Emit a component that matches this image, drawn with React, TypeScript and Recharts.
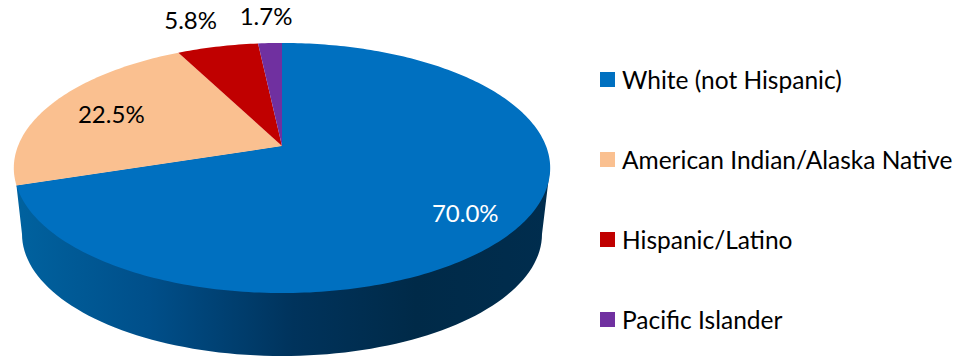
import { PieChart, Pie, Legend } from "recharts";

const names = [
  "White (not Hispanic)",
  "American Indian/Alaska Native",
  "Hispanic/Latino",
  "Pacific Islander",
];
const shares = [70.0, 22.5, 5.8, 1.7];
const colors = ["#0070c0", "#fac090", "#c00000", "#7030a0"];
// label nudge from the rim or inner point of each slice
const labelRadius = [0.8, 0.73, 1, 1];
const labelNudge = [
  [-3, 4],
  [-1, 0],
  [-27, -27],
  [-4, -28],
];

const data = names.map((name, i) => ({ name, value: shares[i] }));

const FONT = "Lato, Carlito, sans-serif";

// perspective of the tilted disc
const TILT = 0.176;
const SQUASH = 0.459;
const DEPTH_CY = 234; // centre of the lower rim
const LOWER_RX = 260;
const LOWER_RY = 122;

const project = (cx: number, cy: number, r: number, deg: number) => {
  const u = Math.cos((deg * Math.PI) / 180);
  const v = -Math.sin((deg * Math.PI) / 180);
  const w = 1 - TILT * v * (r / 264);
  return {
    x: cx + (r * u) / w,
    y: cy + (r * SQUASH * v) / w,
  };
};

function Slice(props: any) {
  const { cx, cy, outerRadius, startAngle, endAngle, fill, index } = props;
  const steps = Math.max(4, Math.ceil(Math.abs(endAngle - startAngle)));
  const rim: string[] = [];
  for (let i = 0; i <= steps; i++) {
    const p = project(cx, cy, outerRadius, startAngle + ((endAngle - startAngle) * i) / steps);
    rim.push(`${p.x.toFixed(2)} ${p.y.toFixed(2)}`);
  }
  const top = `M${cx} ${cy} L${rim.join(" L")} Z`;

  let wall = null;
  if (index === 0) {
    // side of the disc, only the big slice faces the viewer
    const end = project(cx, cy, outerRadius, endAngle);
    const pts: string[] = [];
    for (let a = 0; a <= 180; a += 2) {
      const t = (a * Math.PI) / 180;
      pts.push(`${(cx + LOWER_RX * Math.cos(t)).toFixed(2)} ${(DEPTH_CY + LOWER_RY * Math.sin(t)).toFixed(2)}`);
    }
    const d = `M${cx + 268} 168 L${pts.join(" L")} L${end.x.toFixed(2)} ${end.y.toFixed(2)} L${cx} ${cy} Z`;
    wall = <path d={d} fill="url(#wallShade)" />;
  }

  return (
    <g>
      {wall}
      <path d={top} fill={fill} />
    </g>
  );
}

function SliceLabel(props: any) {
  const { cx, cy, outerRadius, midAngle, index, value } = props;
  const p = project(cx, cy, outerRadius * labelRadius[index], midAngle);
  return (
    <text
      x={p.x + labelNudge[index][0]}
      y={p.y + labelNudge[index][1]}
      textAnchor="middle"
      dominantBaseline="central"
      fontFamily={FONT}
      fontSize={24}
      fill={index === 0 ? "#ffffff" : "#000000"}
    >
      {Number(value).toFixed(1) + "%"}
    </text>
  );
}

function LegendList() {
  return (
    <div style={{ fontFamily: FONT, fontSize: 24.5, color: "#000" }}>
      {names.map((name, i) => (
        <div key={name} style={{ height: 80, display: "flex", alignItems: "center", whiteSpace: "nowrap" }}>
          <span style={{ width: 15, height: 15, background: colors[i], marginRight: 7 }} />
          {name}
        </div>
      ))}
    </div>
  );
}

export default function App() {
  return (
    <div style={{ position: "absolute", left: 0, top: 0 }}>
      <PieChart width={958} height={358} margin={{ top: 0, right: 0, bottom: 0, left: 0 }}>
        <defs>
          <linearGradient id="wallShade" gradientUnits="userSpaceOnUse" x1="15" y1="0" x2="550" y2="0">
            <stop offset="0%" stopColor="#00629f" />
            <stop offset="25%" stopColor="#004f8a" />
            <stop offset="52%" stopColor="#00335c" />
            <stop offset="75%" stopColor="#002a48" />
            <stop offset="100%" stopColor="#002d4e" />
          </linearGradient>
        </defs>
        <Pie
          data={data.map((d, i) => ({ ...d, fill: colors[i] }))}
          dataKey="value"
          nameKey="name"
          cx={282}
          cy={146}
          outerRadius={264}
          startAngle={90}
          endAngle={-270}
          stroke="none"
          shape={Slice}
          label={SliceLabel}
          labelLine={false}
          isAnimationActive={false}
        />
        <Legend
          content={<LegendList />}
          wrapperStyle={{ position: "absolute", left: 600, top: 39, width: 358, bottom: "auto" }}
        />
      </PieChart>
    </div>
  );
}
